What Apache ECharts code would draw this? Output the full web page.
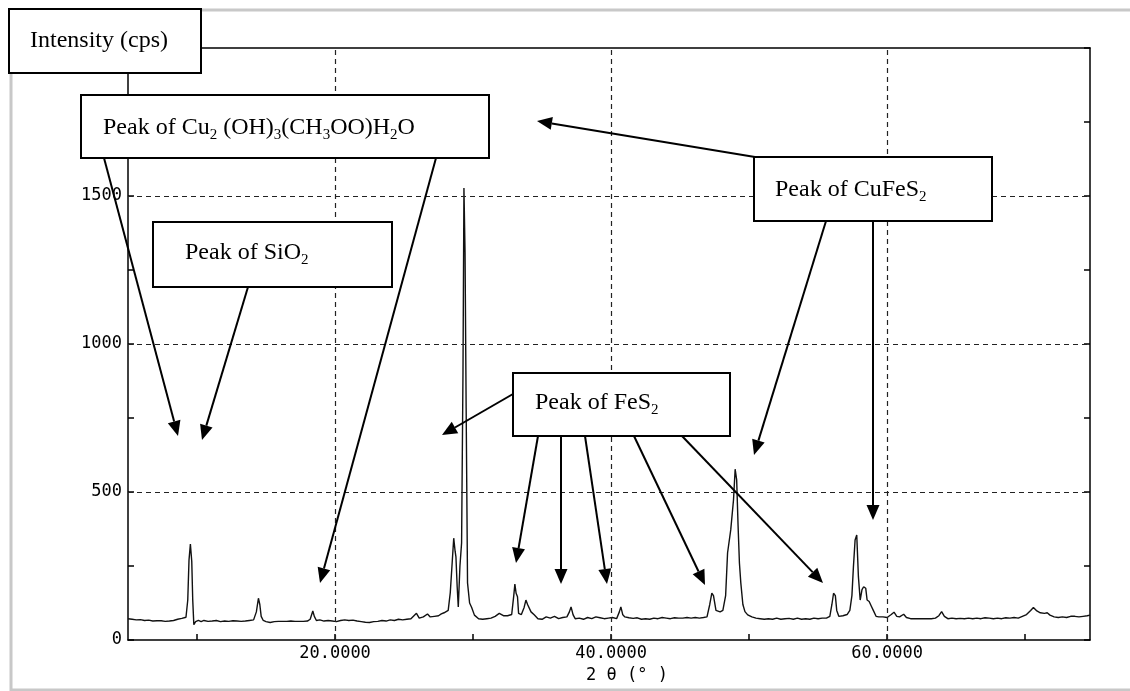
<!DOCTYPE html>
<html><head><meta charset="utf-8">
<script src="https://cdn.jsdelivr.net/npm/echarts@6/dist/echarts.min.js"></script>
<style>html,body{margin:0;padding:0;background:#fff}#c{width:1130px;height:691px}</style>
</head><body><div id="c"></div>
<script>
// ---------- data ----------
const twoTheta = [
5.0,5.3,5.6,5.9,6.2,6.5,6.8,7.1,7.4,7.7,8.0,8.3,8.6,8.9,9.2,9.33,9.42,9.52,9.62,9.69,9.77,9.9,
10.1,10.3,10.5,10.8,11.1,11.4,11.7,12.0,12.3,12.6,12.9,13.2,13.5,13.8,14.1,14.3,14.45,14.55,14.65,14.8,
15.0,15.3,15.6,15.9,16.2,16.5,16.8,17.1,17.4,17.7,18.0,18.2,18.39,18.5,18.65,18.9,19.2,19.5,19.8,
20.1,20.4,20.7,21.0,21.3,21.6,21.9,22.2,22.5,22.8,23.1,23.4,23.7,24.0,24.3,24.6,24.9,25.2,25.5,25.9,
26.1,26.4,26.7,26.9,27.2,27.5,27.7,27.9,28.2,28.35,28.5,28.6,28.7,28.76,28.85,28.93,29.05,29.17,29.27,
29.34,29.42,29.5,29.6,29.75,29.9,30.1,30.4,30.7,31.0,31.3,31.6,31.9,32.2,32.5,32.8,32.95,33.03,33.12,
33.22,33.3,33.5,33.7,33.83,33.95,34.07,34.2,34.43,34.7,35.0,35.3,35.6,35.9,36.2,36.5,36.8,36.98,37.1,
37.25,37.4,37.7,38.0,38.3,38.6,38.9,39.2,39.5,39.8,40.1,40.4,40.6,40.71,40.85,41.0,41.3,41.6,41.9,
42.2,42.5,42.8,43.1,43.4,43.7,44.0,44.3,44.6,44.9,45.2,45.5,45.8,46.1,46.4,46.7,46.95,47.15,47.3,
47.42,47.6,47.9,48.1,48.3,48.44,48.67,48.87,48.99,49.1,49.2,49.3,49.4,49.55,49.7,49.9,50.2,50.5,50.8,
51.1,51.4,51.7,52.0,52.3,52.6,52.9,53.2,53.5,53.8,54.1,54.4,54.7,55.0,55.3,55.6,55.85,56.0,56.12,
56.25,56.35,56.5,56.8,57.1,57.3,57.45,57.56,57.68,57.8,57.92,58.05,58.18,58.3,58.45,58.55,58.7,58.85,
59.0,59.2,59.4,59.7,60.0,60.3,60.5,60.7,60.9,61.2,61.4,61.7,62.0,62.3,62.6,62.9,63.2,63.5,63.75,
63.95,64.15,64.4,64.7,65.0,65.3,65.6,65.9,66.2,66.5,66.8,67.1,67.4,67.7,68.0,68.3,68.6,68.9,69.2,
69.5,69.8,70.1,70.4,70.6,70.85,71.1,71.4,71.6,71.8,72.1,72.4,72.7,73.0,73.3,73.6,73.9,74.2,74.5,74.7
];
const intensity = [
72,70,68,69,66,67,64,65,65,63,64,66,70,73,77,135,270,324,265,135,52,62,
66,62,66,63,64,66,62,64,63,65,64,63,64,66,68,95,141,120,80,66,
62,59,62,63,63,63,64,63,63,63,64,70,98,80,66,68,64,66,64,
62,66,68,66,67,64,62,60,59,62,63,66,64,68,66,70,68,70,72,90,
74,78,88,78,80,82,88,92,100,160,270,344,300,281,180,112,250,328,900,
1527,1310,784,193,125,110,84,72,70,72,74,80,90,82,82,86,150,189,158,
146,90,86,110,135,120,118,95,85,72,70,78,74,80,72,76,78,95,112,
85,72,74,70,76,72,78,75,72,74,76,72,95,112,85,78,75,73,75,
70,72,70,74,72,76,74,72,75,74,74,76,74,76,74,76,78,120,158,
150,100,95,100,150,294,372,473,577,541,389,260,193,120,96,85,78,74,72,
70,72,70,74,70,72,73,70,74,70,72,70,74,72,74,74,80,120,158,
150,100,80,82,86,100,150,248,338,355,214,135,170,180,175,135,130,115,
100,80,78,78,76,86,94,80,78,87,76,72,72,72,72,72,72,74,82,
96,80,72,74,72,73,72,74,72,74,72,75,74,72,74,72,75,74,76,
74,80,86,100,110,98,92,90,92,84,78,76,78,76,80,80,78,80,82,84
];
const xTickValues = [10, 20, 30, 40, 50, 60, 70];
const xLabelValues = [20, 40, 60];
const gridXValues = [20, 40, 60];
const gridYValues = [500, 1000, 1500];
const xAxisName = '2 θ (° )';
const yAxisTitle = 'Intensity (cps)';
const noteTexts = [
  'Peak of Cu{s|2} (OH){s|3}(CH{s|3}OO)H{s|2}O',
  'Peak of SiO{s|2}',
  'Peak of CuFeS{s|2}',
  'Peak of FeS{s|2}'
];

// ---------- layout of annotations (pixels) ----------
const noteBoxes = [
  {x: 81, y: 95, w: 408, h: 63, tx: 103, ty: 128},
  {x: 153, y: 222, w: 239, h: 65, tx: 185, ty: 253},
  {x: 754, y: 157, w: 238, h: 64, tx: 775, ty: 190},
  {x: 513, y: 373, w: 217, h: 63, tx: 535, ty: 403}
];
const arrows = [
  [104,158,178,436],[436,158,320,583],[248,287,202,440],
  [755,157,537,121],[826,221,754,455],[873,221,873,520],
  [513,394,442,435],[538,436,516,563],[561,436,561,584],
  [585,436,607,584],[634,436,705,585],[682,436,823,583]
];

const seriesData = twoTheta.map((t, i) => [t, intensity[i]]);

const chart = echarts.init(document.getElementById('c'), null, {renderer: 'canvas'});
const axisLineStyle = {color: '#000', width: 1.5};
const tickFont = {color: '#000', fontFamily: 'DejaVu Sans Mono', fontSize: 17};

function arrowGraphics(a) {
  const [x1, y1, x2, y2] = a;
  const ang = Math.atan2(y2 - y1, x2 - x1);
  const len = 15, half = 6.5;
  const bx = x2 - len * Math.cos(ang), by = y2 - len * Math.sin(ang);
  const px = -Math.sin(ang) * half, py = Math.cos(ang) * half;
  return [
    {type: 'line', z: 102, shape: {x1, y1, x2: bx, y2: by}, style: {stroke: '#000', lineWidth: 2}},
    {type: 'polygon', z: 102, shape: {points: [[x2, y2], [bx + px, by + py], [bx - px, by - py]]}, style: {fill: '#000'}}
  ];
}

const graphics = [];
graphics.push({type: 'polyline', z: 99, shape: {points: [[1140, 10], [11, 10], [11, 690], [1140, 690]]},
  style: {stroke: '#c8c8c8', lineWidth: 3, fill: null}});
graphics.push({type: 'rect', z: 100, shape: {x: 9, y: 9, width: 192, height: 64}, style: {fill: '#fff', stroke: '#000', lineWidth: 2}});
graphics.push({type: 'text', z: 101, style: {x: 30, y: 41, text: yAxisTitle, fontFamily: 'Liberation Serif', fontSize: 24, verticalAlign: 'middle', fill: '#000'}});
noteBoxes.forEach((b, i) => {
  graphics.push({type: 'rect', z: 100, shape: {x: b.x, y: b.y, width: b.w, height: b.h}, style: {fill: '#fff', stroke: '#000', lineWidth: 2}});
  graphics.push({type: 'text', z: 101, style: {
    x: b.tx, y: b.ty, text: noteTexts[i], fontFamily: 'Liberation Serif', fontSize: 24, lineHeight: 30,
    verticalAlign: 'middle', fill: '#000',
    rich: {s: {fontSize: 15, fontFamily: 'Liberation Serif', verticalAlign: 'bottom', fill: '#000'}}
  }});
});
arrows.forEach(a => graphics.push(...arrowGraphics(a)));

const option = {
  animation: false,
  backgroundColor: '#fff',
  grid: {left: 128, right: 40, top: 48, bottom: 51, containLabel: false, outerBoundsMode: 'none'},
  xAxis: [
    {type: 'value', min: 5, max: 74.7, position: 'bottom',
      axisLine: {show: true, onZero: false, lineStyle: axisLineStyle},
      axisTick: {show: true, inside: true, length: 6, customValues: xTickValues, lineStyle: {color: '#000', width: 1.5}},
      axisLabel: Object.assign({show: true, customValues: xLabelValues, margin: 5,
        formatter: v => Number(v).toFixed(4)}, tickFont),
      splitLine: {show: false},
      name: xAxisName, nameLocation: 'middle', nameGap: 27,
      nameTextStyle: Object.assign({padding: [0, 0, 0, 36]}, tickFont)},
    {type: 'value', min: 5, max: 74.7, position: 'top',
      axisLine: {show: true, onZero: false, lineStyle: axisLineStyle},
      axisTick: {show: false}, axisLabel: {show: false}, splitLine: {show: false}}
  ],
  yAxis: [
    {type: 'value', min: 0, max: 2000, interval: 500, position: 'left',
      axisLine: {show: true, onZero: false, lineStyle: axisLineStyle},
      axisTick: {show: true, inside: true, length: 6, lineStyle: {color: '#000', width: 1.5}},
      minorTick: {show: true, splitNumber: 2, length: 6, lineStyle: {color: '#000', width: 1.5}},
      axisLabel: Object.assign({margin: 6, formatter: v => (v >= 2000 ? '' : String(v))}, tickFont),
      splitLine: {show: false}},
    {type: 'value', min: 0, max: 2000, interval: 500, position: 'right',
      axisLine: {show: true, onZero: false, lineStyle: axisLineStyle},
      axisTick: {show: true, inside: true, length: 6, lineStyle: {color: '#000', width: 1.5}},
      minorTick: {show: true, splitNumber: 2, length: 6, lineStyle: {color: '#000', width: 1.5}},
      axisLabel: {show: false}, splitLine: {show: false}}
  ],
  series: [{
    type: 'line', xAxisIndex: 0, yAxisIndex: 0, data: seriesData,
    symbol: 'none', showSymbol: false, smooth: false,
    lineStyle: {color: '#111', width: 1.4},
    markLine: {
      silent: true, symbol: ['none', 'none'], label: {show: false}, animation: false,
      lineStyle: {color: '#222', type: [5, 4], width: 1.2},
      emphasis: {disabled: true},
      data: gridXValues.map(v => ({xAxis: v})).concat(gridYValues.map(v => ({yAxis: v})))
    }
  }],
  graphic: graphics
};
chart.setOption(option);
</script>
</body></html>
